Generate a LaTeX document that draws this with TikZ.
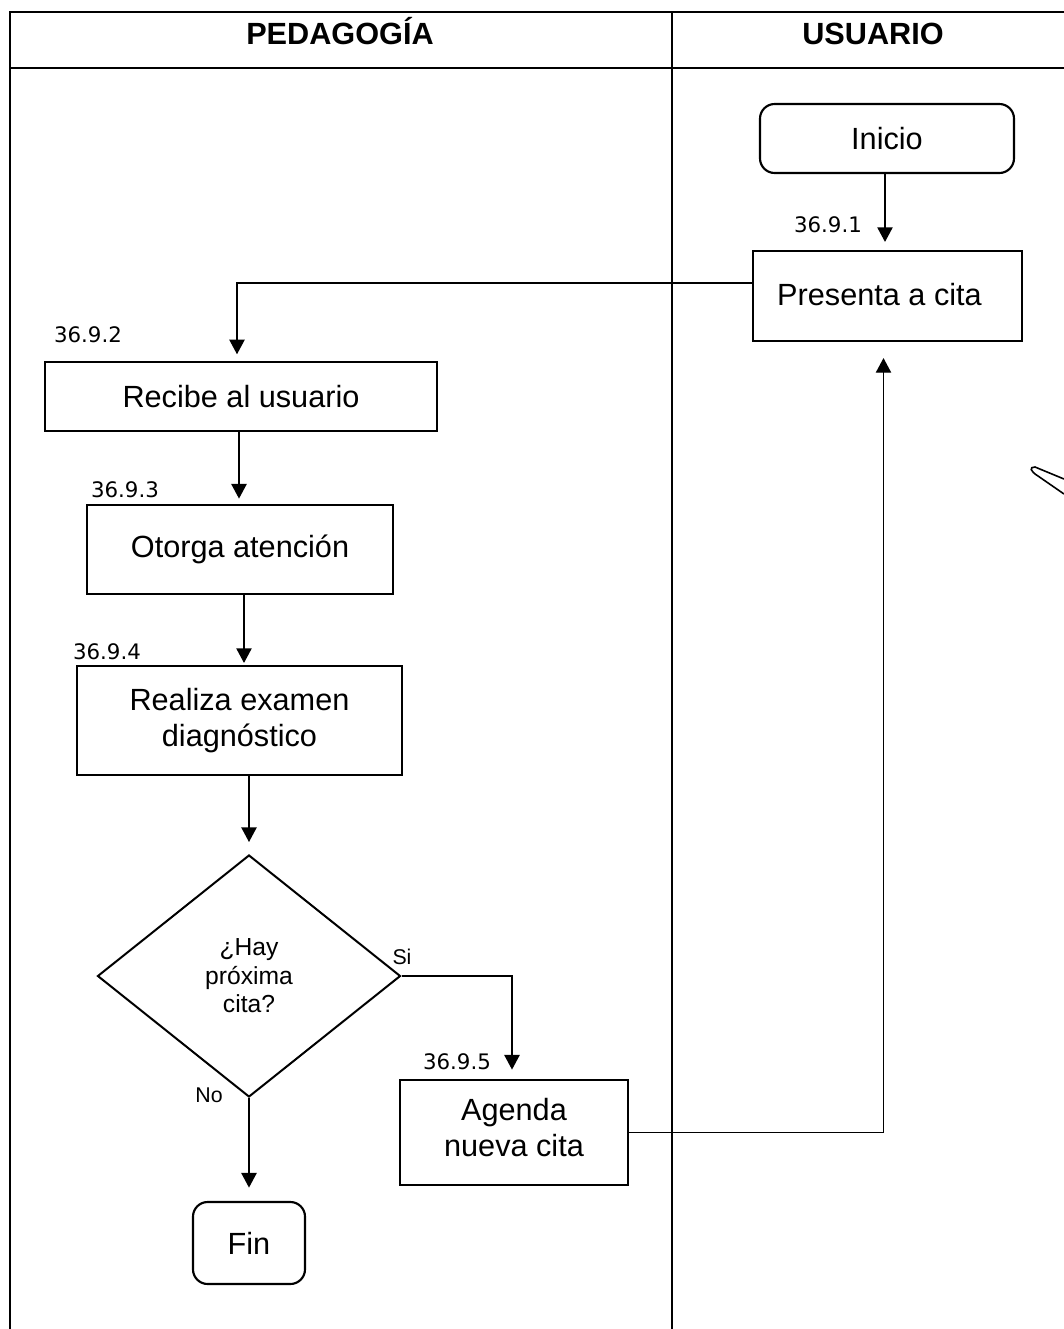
\documentclass[tikz,border=0pt]{standalone}
\usepackage{fontspec}
\setmainfont{Liberation Sans}
\newfontfamily\stepfont{DejaVu Sans}
\usetikzlibrary{shapes.geometric,arrows.meta,calc}
\tikzset{
  box/.style={draw,line width=1.6pt,inner sep=2pt,align=center,font=\fontsize{23}{27}\selectfont},
  term/.style={box,rounded corners=11pt},
  decision/.style={draw,diamond,line width=1.5pt,inner sep=0pt,align=center,font=\fontsize{18.5}{21.4}\selectfont},
  conn/.style={line width=1.1pt},
  arr/.style={conn,-{Triangle[length=11pt,width=11.5pt]}},
  steplbl/.style={font=\stepfont\fontsize{16}{18}\selectfont,inner sep=0pt},
  lane/.style={line width=0.8pt},
  head/.style={font=\bfseries\fontsize{23}{27}\selectfont,inner sep=0pt,anchor=base}
}
\begin{document}
\begin{tikzpicture}[x=0.75pt,y=-0.75pt]
\useasboundingbox (0,0) rectangle (1064,1329);
% lanes
\draw[lane] (1064,12) -- (10,12) -- (10,1329);
\draw[lane] (10,68) -- (1064,68);
\draw[lane] (672,12) -- (672,1329);
\node[head] (hped) at (340,44) {PEDAGOGÍA};
\node[head] (husu) at (873,44) {USUARIO};
% nodes
\node[term,minimum width=190.5pt,minimum height=51.75pt] (inicio) at (887,138.5) {Inicio};
\node[box,minimum width=201.75pt,minimum height=67.5pt] (presenta) at (887.5,296) {\raisebox{2pt}{Presenta a cita}\hspace*{12pt}};
\node[box,minimum width=294pt,minimum height=51.75pt] (recibe) at (241,396.5) {Recibe al usuario};
\node[box,minimum width=229.5pt,minimum height=66.75pt] (otorga) at (240,549.5) {Otorga atención};
\node[box,minimum width=243.75pt,minimum height=81.75pt] (realiza) at (239.5,720.5) {Realiza examen\\diagnóstico};
\node[decision,minimum width=227.25pt,minimum height=181.5pt] (diam) at (249,976) {¿Hay\\próxima\\cita?};
\node[box,minimum width=171pt,minimum height=78.75pt,text depth=8pt] (agenda) at (514,1132.5) {Agenda\\nueva cita};
\node[term,minimum width=84pt,minimum height=61.5pt] (fin) at (249,1243) {Fin};
% step labels
\node[steplbl] (s1) at (828,225) {36.9.1};
\node[steplbl] (s2) at (88,335) {36.9.2};
\node[steplbl] (s3) at (125,490) {36.9.3};
\node[steplbl] (s4) at (107,652) {36.9.4};
\node[steplbl] (s5) at (457,1062) {36.9.5};
\node[font=\fontsize{16}{18}\selectfont,inner sep=0pt] (si) at (402,957) {Si};
\node[font=\fontsize{16}{18}\selectfont,inner sep=0pt] (no) at (209,1095) {No};
% connectors
\draw[arr,shorten >=6pt] ([xshift=-1.5pt]inicio.south) -- ([xshift=-1.5pt]inicio.south |- presenta.north);
\draw[arr,shorten >=5pt] ([yshift=9.75pt]presenta.west) -| ([xshift=-3pt]recibe.north);
\draw[arr,shorten >=4pt] ([xshift=-1.5pt]recibe.south) -- ([xshift=-1.5pt]recibe.south |- otorga.north);
\draw[arr,shorten >=1.5pt] ([xshift=3pt]otorga.south) -- ([xshift=3pt]otorga.south |- realiza.north);
\draw[arr,shorten >=9pt] (realiza.south -| diam.north) -- (diam.north);
\draw[arr,shorten >=7pt] (diam.east) -| ([xshift=-1.5pt]agenda.north);
\draw[arr,shorten >=10pt] (diam.south) -- (fin.north);
\draw[arr,shorten >=12pt] (agenda.east) -| ([xshift=-3pt]presenta.south);
% stray pen stroke at right edge
\draw[line width=1.2pt] (1064,479) -- (1035,467) .. controls (1029,467) and (1030,471) .. (1038,476) -- (1064,494);
\end{tikzpicture}
\end{document}
